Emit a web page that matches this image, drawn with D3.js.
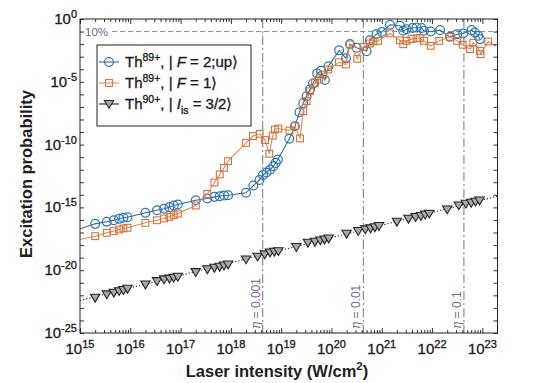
<!DOCTYPE html>
<html><head><meta charset="utf-8">
<script src="https://cdn.jsdelivr.net/npm/d3@7"></script>
<style>
body{margin:0;background:#fff;}
svg text{font-family:"Liberation Sans",Arial,Helvetica,sans-serif;}
</style></head><body>
<svg id="c" width="554" height="383"></svg>
<script>
// ---- data ----
const blueI = [1e15, 2e15,3.4e15,4.7e15,6e15,7.3e15,8.8e15, 2e16,3.4e16,4.7e16,6e16,7.3e16,8.8e16,
  2e17,3.4e17,4.7e17,6e17,7.3e17,8.8e17, 2e18,2.8e18,3.7e18,4.35e18,5.1e18,6e18,7e18,7.8e18,8.6e18,
  1.45e19,1.88e19,2.31e19,2.75e19,3.2e19,3.74e19,4.3e19,5.2e19,6.2e19,7.4e19,8.7e19,
  1.42e20,1.94e20,2.33e20,3.17e20,5.0e20,5.8e20,7.9e20,1.0e21,
  1.46e21,2.3e21,2.67e21,3.1e21,4.1e21,4.9e21,6.2e21,6.9e21,9.4e21,
  1.44e22,2.27e22,3.17e22,4.17e22,6.1e22,7.1e22,8.3e22,8.96e22];
const blueP = [2.0e-17, 4.9e-17,7.1e-17,9.5e-17,1.23e-16,1.48e-16,1.66e-16, 3.7e-16,6.0e-16,7.8e-16,1.05e-15,1.41e-15,1.70e-15,
  3.7e-15,5.1e-15,6.9e-15,7.8e-15,8.9e-15,9.3e-15, 1.45e-14,5.5e-14,1.51e-13,3.8e-13,6.0e-13,1.0e-12,1.9e-12,3.5e-12,6.5e-12,
  2.9e-10,2.9e-9,3.8e-8,2.0e-7,7.1e-7,2.5e-6,7.2e-6,4.6e-5,7.6e-5,1.38e-5,1.74e-4,
  3.2e-3,7.4e-4,1.02e-2,5.1e-3,2.75e-3,2.0e-2,6.5e-2,9.3e-2,
  0.35,0.29,0.115,0.155,0.19,0.21,0.19,0.115,0.10,
  0.13,0.038,0.062,0.071,0.13,0.085,0.046,0.025];

const orangeI = [1e15, 2e15,3.4e15,4.7e15,6e15,7.3e15,8.8e15, 2e16,3.4e16,4.7e16,6e16,7.3e16,8.8e16,
  2e17,3.4e17,4.7e17,6e17,7.3e17,8.8e17, 2e18,2.75e18,3.74e18,4.77e18,5.8e18,6.8e18,7.5e18,8.75e18,
  1.46e19,1.88e19,2.37e19,2.75e19,3.2e19,3.74e19,4.7e19,5.7e19,6.9e19,8.6e19,
  1.41e20,1.94e20,2.33e20,3.26e20,4.29e20,5.8e20,6.8e20,8.5e20,
  1.46e21,2.3e21,2.67e21,3.1e21,3.9e21,4.9e21,5.7e21,6.9e21,9.4e21,
  1.39e22,2.27e22,3.17e22,4.05e22,5.7e22,6.6e22,8.96e22,9.25e22,
  1.31e23,1.86e23];
const orangeP = [2.75e-18, 5.1e-18,9.5e-18,1.29e-17,1.74e-17,2.1e-17,2.4e-17, 5.9e-17,9.5e-17,1.32e-16,1.78e-16,2.4e-16,3.2e-16,
  1.41e-15,1.17e-14,9.5e-14,4.2e-13,1.41e-12,4.8e-12, 1.38e-10,4.8e-10,7.2e-10,2.3e-10,1.86e-11,5.2e-10,1.58e-9,1.9e-9,
  1.32e-9,3.0e-9,3.1e-10,4.6e-8,2.9e-7,1.78e-6,8.3e-6,1.51e-5,3.8e-5,9.5e-5,
  3.6e-4,2.4e-4,9.3e-3,6.8e-4,6.2e-3,1.12e-2,1.62e-2,1.82e-2,
  7.1e-2,2.0e-2,9.8e-3,1.82e-2,2.5e-2,2.95e-2,2.95e-2,1.82e-2,7.4e-3,
  1.82e-2,3.8e-2,1.82e-2,8.9e-3,4.0e-3,1.29e-2,2.95e-3,1.58e-3,
  1.62e-2,6.5e-3];

const blackI = [2e15,3.4e15,4.7e15,6e15,7.3e15,8.8e15, 2e16,3.4e16,4.7e16,6e16,7.3e16,8.8e16,
  2e17,3.4e17,4.7e17,6e17,7.3e17,8.8e17, 2e18,3.4e18,4.7e18,6e18,7.3e18,8.8e18,
  2e19,3.4e19,4.7e19,6e19,7.3e19,8.8e19, 2e20,3.4e20,4.7e20,6e20,7.3e20,8.8e20,
  2e21,3.4e21,4.7e21,6e21,7.3e21,8.8e21, 2e22,3.4e22,4.7e22,6e22,7.3e22,8.8e22];
const blackP = [6.3e-23,1.17e-22,1.58e-22,2.1e-22,2.6e-22,3.3e-22, 7.2e-22,1.32e-21,1.82e-21,2.1e-21,2.5e-21,2.95e-21,
  6.9e-21,1.15e-20,1.55e-20,1.86e-20,2.3e-20,2.8e-20, 7.1e-20,1.17e-19,1.78e-19,2.5e-19,2.9e-19,3.2e-19,
  6.8e-19,1.51e-18,1.82e-18,2.3e-18,2.75e-18,3.3e-18, 7.9e-18,1.29e-17,1.74e-17,2.1e-17,2.6e-17,3.2e-17,
  7.1e-17,1.23e-16,1.66e-16,2.0e-16,2.6e-16,3.1e-16, 6.8e-16,1.41e-15,1.95e-15,2.3e-15,2.8e-15,3.5e-15];
const fitI = [1e15, 2e23];
const fitP = [3.9e-23, 7.8e-15];

const etaI = [4.3e18, 4.3e20, 4.3e22];
const etaLabels = ["0.001", "0.01", "0.1"];
const refLevel = 0.1, refLabel = "10%";
const xTickExps = [15,16,17,18,19,20,21,22,23];
const yTickExps = [0,-5,-10,-15,-20,-25];
const xDomain = [1e15, 2e23], yDomain = [1e-25, 1];

// ---- layout ----
const L = 80, R = 497.5, T = 19, B = 333;
const svg = d3.select("#c");
const x = d3.scaleLog().domain(xDomain).range([L, R]);
const y = d3.scaleLog().domain(yDomain).range([B, T]);

const cBlue = "#2a78b8", cBlueLine = "#3a6690", cOrange = "#d4733a", cOrangeLine = "#d98b5c";
const cPurple = "#7e6190", cGray = "#8a8a8a", cText = "#1e1e1e";

svg.append("defs").append("clipPath").attr("id","clip")
  .append("rect").attr("x",L).attr("y",T).attr("width",R-L).attr("height",B-T);

// reference lines
const g = svg.append("g").attr("clip-path","url(#clip)");
g.append("line").attr("x1",112).attr("x2",R).attr("y1",y(refLevel)).attr("y2",y(refLevel))
  .attr("stroke",cGray).attr("stroke-width",1).attr("stroke-dasharray","5,3");
svg.append("text").attr("x",85).attr("y",y(refLevel)+4).attr("font-size",11.5).attr("fill",cPurple).text(refLabel);
etaI.forEach((v,i)=>{
  g.append("line").attr("x1",x(v)).attr("x2",x(v)).attr("y1",T).attr("y2",B)
    .attr("stroke","#777").attr("stroke-width",1).attr("stroke-dasharray","9,3,2,3");
  const t = svg.append("text").attr("transform",`translate(${x(v)-3},${B-4}) rotate(-90)`)
    .attr("font-size",12).attr("fill",cPurple);
  t.append("tspan").attr("font-family","DejaVu Serif, serif").attr("font-style","italic").text("η");
  t.append("tspan").text(" = " + etaLabels[i]);
});

// axes ticks (inward)
const xMinor = [];
for (let e=15;e<=23;e++) for (let k=1;k<=9;k++){const v=k*Math.pow(10,e); if(v>=xDomain[0]&&v<=xDomain[1]) xMinor.push(v);}
const yTicks = d3.range(-25,1).map(e=>Math.pow(10,e));
function tickLen(v){ const l=Math.log10(v); return Math.abs(l-Math.round(l))<1e-9 ? 5 : 3; }
svg.append("g").attr("transform",`translate(0,${B})`)
  .call(d3.axisBottom(x).tickValues(xMinor).tickFormat("").tickSize(-3).tickSizeOuter(0))
  .call(a=>{a.select(".domain").remove(); a.selectAll(".tick line").attr("y2",d=>-tickLen(d)).attr("stroke","#333");});
svg.append("g").attr("transform",`translate(0,${T})`)
  .call(d3.axisTop(x).tickValues(xMinor).tickFormat("").tickSize(-3).tickSizeOuter(0))
  .call(a=>{a.select(".domain").remove(); a.selectAll(".tick line").attr("y2",d=>tickLen(d)).attr("stroke","#333");});
svg.append("g").attr("transform",`translate(${L},0)`)
  .call(d3.axisLeft(y).tickValues(yTicks).tickFormat("").tickSize(-4).tickSizeOuter(0))
  .call(a=>{a.select(".domain").remove(); a.selectAll(".tick line").attr("stroke","#333");});
svg.append("g").attr("transform",`translate(${R},0)`)
  .call(d3.axisRight(y).tickValues(yTicks).tickFormat("").tickSize(-4).tickSizeOuter(0))
  .call(a=>{a.select(".domain").remove(); a.selectAll(".tick line").attr("stroke","#333");});
svg.append("rect").attr("x",L).attr("y",T).attr("width",R-L).attr("height",B-T)
  .attr("fill","none").attr("stroke","#222").attr("stroke-width",1);

// tick labels
function heavy(t){ return t.attr("fill",cText).attr("stroke",cText).attr("stroke-width",0.35); }
xTickExps.forEach(e=>{
  const t = heavy(svg.append("text").attr("x",x(Math.pow(10,e))).attr("y",B+21).attr("text-anchor","middle")
    .attr("font-size",15));
  t.append("tspan").text("10");
  t.append("tspan").attr("dy",-6).attr("font-size",11).text(e);
});
yTickExps.forEach(e=>{
  const t = heavy(svg.append("text").attr("x",L-3).attr("y",y(Math.pow(10,e))+5).attr("text-anchor","end")
    .attr("font-size",15));
  t.append("tspan").text("10");
  t.append("tspan").attr("dy",-6).attr("font-size",11).text(e===0?"0":"-"+(-e));
});

// axis titles
svg.append("text").attr("transform",`translate(32,${(T+B)/2-2}) rotate(-90)`).attr("text-anchor","middle")
  .attr("font-size",16.5).attr("font-weight","bold").attr("fill",cText).text("Excitation probability");
const xt = svg.append("text").attr("x",277).attr("y",377).attr("text-anchor","middle")
  .attr("font-size",16.5).attr("font-weight","bold").attr("fill",cText);
xt.append("tspan").text("Laser intensity (W/cm");
xt.append("tspan").attr("dy",-7).attr("font-size",11.5).text("2");
xt.append("tspan").attr("dy",7).text(")");

// series
const line = d3.line().x(d=>x(d[0])).y(d=>y(d[1]));
const blue = blueI.map((v,i)=>[v,blueP[i]]);
const orange = orangeI.map((v,i)=>[v,orangeP[i]]);
const black = blackI.map((v,i)=>[v,blackP[i]]);
const fit = fitI.map((v,i)=>[v,fitP[i]]);

function circleM(sel, c){ sel.append("circle").attr("r",4.4).attr("fill","none").attr("stroke",c).attr("stroke-width",1.25); }
function squareM(sel, c){ sel.append("rect").attr("x",-3.4).attr("y",-3.4).attr("width",6.8).attr("height",6.8).attr("fill","none").attr("stroke",c).attr("stroke-width",1.1); }
function triM(sel){ sel.append("path").attr("d","M-4.7,-3.6L4.7,-3.6L0,4.3Z").attr("fill","#a8a8a8").attr("stroke","#222").attr("stroke-width",1.05); }

g.append("path").datum(fit).attr("d",line).attr("fill","none").attr("stroke","#222").attr("stroke-width",1.1).attr("stroke-dasharray","1.2,2");
g.append("path").datum(blue).attr("d",line).attr("fill","none").attr("stroke",cBlueLine).attr("stroke-width",1.1);
g.selectAll("g.bm").data(blue.slice(1)).join("g").attr("class","bm").attr("transform",d=>`translate(${x(d[0])},${y(d[1])})`).call(s=>circleM(s,cBlue));
g.append("path").datum(orange).attr("d",line).attr("fill","none").attr("stroke",cOrangeLine).attr("stroke-width",1.1);
g.selectAll("g.om").data(orange.slice(1,-1)).join("g").attr("class","om").attr("transform",d=>`translate(${x(d[0])},${y(d[1])})`).call(s=>squareM(s,cOrange));
g.selectAll("g.km").data(black).join("g").attr("class","km").attr("transform",d=>`translate(${x(d[0])},${y(d[1])})`).call(triM);

// legend
const lg = svg.append("g");
lg.append("rect").attr("x",97).attr("y",45).attr("width",154).attr("height",81).attr("fill","#fff").attr("stroke","#222").attr("stroke-width",1);
const rows = [
  {c:cBlue, lc:cBlueLine, m:"c", sup:"89+", it:"F", sub:null, rest:" = 2;up⟩"},
  {c:cOrange, lc:cOrangeLine, m:"s", sup:"89+", it:"F", sub:null, rest:" = 1⟩"},
  {c:"#222", lc:"#222", m:"t", sup:"90+", it:"I", sub:"is", rest:" = 3/2⟩"}
];
const rowY = [62, 83, 104];
rows.forEach((r,i)=>{
  const yy = rowY[i];
  lg.append("line").attr("x1",99).attr("x2",119).attr("y1",yy).attr("y2",yy).attr("stroke",r.lc).attr("stroke-width",1.1);
  const mg = lg.append("g").attr("transform",`translate(109,${yy})`);
  if (r.m==="c") circleM(mg,r.c); else if (r.m==="s") squareM(mg,r.c); else triM(mg);
  const t = heavy(lg.append("text").attr("x",125).attr("y",yy+5).attr("font-size",15));
  t.append("tspan").text("Th");
  t.append("tspan").attr("dy",-6).attr("font-size",10.5).text(r.sup);
  t.append("tspan").attr("dy",6).text(", | ");
  t.append("tspan").attr("font-style","italic").text(r.it);
  if (r.sub){ t.append("tspan").attr("dy",5).attr("font-size",10.5).text(r.sub); t.append("tspan").attr("dy",-5).text(r.rest); }
  else t.append("tspan").text(r.rest);
});
</script>
</body></html>
